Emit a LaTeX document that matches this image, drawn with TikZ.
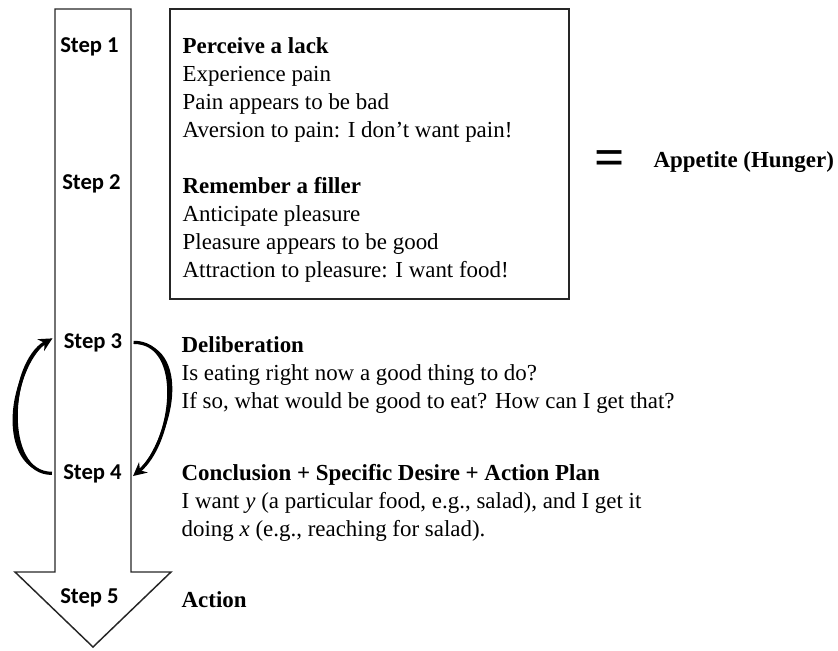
\documentclass[tikz,border=0pt]{standalone}
\usepackage{fontspec}
\setmainfont{Liberation Serif}
\newfontfamily\stepfont{Carlito}
\usetikzlibrary{arrows.meta}

\begin{document}
\begin{tikzpicture}[x=0.75pt, y=0.75pt, line width=1pt,
  steplabel/.style={anchor=base, inner xsep=8pt, inner ysep=2pt,
    font=\stepfont\bfseries\fontsize{17}{21}\selectfont},
  textblock/.style={anchor=base west, inner sep=0pt, align=left,
    font=\fontsize{17.2}{21}\selectfont},
  cyclearrow/.style={line width=2.4pt, -{Stealth[length=10pt, width=10pt]}}]

\useasboundingbox (0,0) rectangle (838,-650);

% the long arrow down
\draw[black!85, line width=1.1pt] (55,-9) -- (131,-9) -- (131,-572) -- (171,-572)
  -- (93,-647) -- (15,-572) -- (55,-572) -- cycle;

% box round steps 1 and 2
\draw[black!85, line width=1.5pt] (170,-9) rectangle (569,-299);

\node[steplabel] (s1) at (89.5,-52) {Step 1};
\node[steplabel] (s2) at (91.5,-189) {Step 2};
\node[steplabel] (s3) at (93,-348) {Step 3};
\node[steplabel] (s4) at (92.5,-479) {Step 4};
\node[steplabel] (s5) at (89.5,-603) {Step 5};

% blocks are placed at the baseline of their last line
\node[textblock] (lack) at (182,-137) {\textbf{Perceive a lack}\\
  Experience pain\\ Pain appears to be bad\\ Aversion to pain: I don't want pain!};
\node[textblock] (filler) at (182,-277) {\textbf{Remember a filler}\\
  Anticipate pleasure\\ Pleasure appears to be good\\ Attraction to pleasure: I want food!};

\node[font=\fontsize{40}{42}\selectfont\bfseries] (eq) at (610,-163) {=};
\node[textblock, font=\fontsize{17.2}{21}\selectfont\bfseries] (appetite) at (653,-167)
  {Appetite (Hunger)};

\node[textblock] (delib) at (181,-408) {\textbf{Deliberation}\\
  Is eating right now a good thing to do?\\
  If so, what would be good to eat? How can I get that?};
\node[textblock] (concl) at (181,-536) {\textbf{Conclusion + Specific Desire + Action Plan}\\
  I want \textit{y} (a particular food, e.g., salad), and I get it\\
  doing \textit{x} (e.g., reaching for salad).};
\node[textblock, font=\fontsize{17.2}{21}\selectfont\bfseries] (action) at (181,-607) {Action};

% going back and forth between steps 3 and 4
\draw[cyclearrow] (s4.west) to[out=180, in=210, looseness=0.95] ([yshift=3pt]s3.west);
\fill (s4.west) to[out=180, in=210, looseness=0.95] ([yshift=3pt]s3.west)
  to[out=210, in=180, looseness=1.07] (s4.west) -- cycle;
\draw[cyclearrow] (s3.east) to[out=0, in=40, looseness=1] ([yshift=-2pt]s4.east);
\fill (s3.east) to[out=0, in=40, looseness=1] ([yshift=-2pt]s4.east)
  to[out=40, in=0, looseness=1.12] (s3.east) -- cycle;
\end{tikzpicture}
\end{document}
